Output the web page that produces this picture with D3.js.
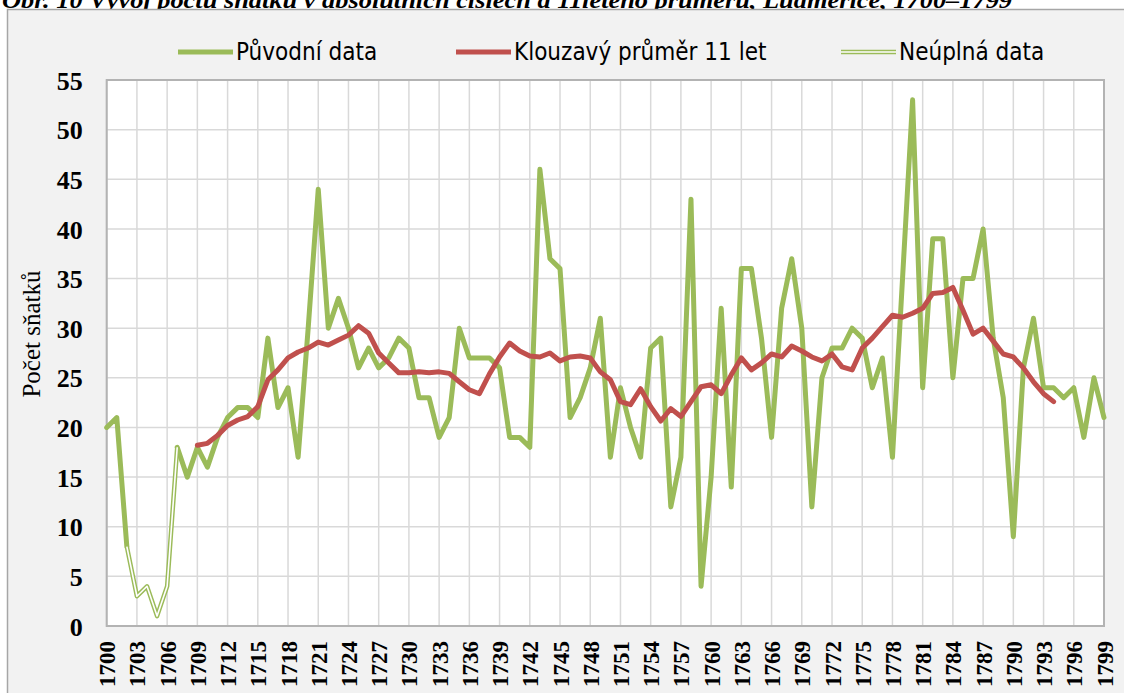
<!DOCTYPE html>
<html>
<head>
<meta charset="utf-8">
<script src="https://cdn.jsdelivr.net/npm/d3@7"></script>
<style>
  html, body { margin: 0; padding: 0; background: #ffffff; }
  svg { display: block; }
</style>
</head>
<body>
<div id="chart"></div>
<script>
// roky 1700-1799
const years = d3.range(1700, 1800);

// Původní data (null = neúplné roky 1703-1706)
const puvodni = [
  20, 21, 8, null, null, null, null, 18, 15, 18,
  16, 19, 21, 22, 22, 21, 29, 22, 24, 17,
  30, 44, 30, 33, 30, 26, 28, 26, 27, 29,
  28, 23, 23, 19, 21, 30, 27, 27, 27, 26,
  19, 19, 18, 46, 37, 36, 21, 23, 26, 31,
  17, 24, 20, 17, 28, 29, 12, 17, 43, 4,
  15, 32, 14, 36, 36, 29, 19, 32, 37, 30,
  12, 25, 28, 28, 30, 29, 24, 27, 17, 35,
  53, 24, 39, 39, 25, 35, 35, 40, 29, 23,
  9, 26, 31, 24, 24, 23, 24, 19, 25, 21
];

// Neúplná data, 1702-1707
const neuplnaStart = 1702;
const neuplna = [8, 3, 4, 1, 4, 18];

// Klouzavý průměr 11 let, 1709-1794
const klouzavyStart = 1709;
const klouzavy = [
  18.2, 18.4, 19.2, 20.2, 20.75, 21.1, 22.1, 24.8, 25.8, 27.0, 27.6, 28.0,
  28.6, 28.3, 28.8, 29.3, 30.25, 29.5, 27.5, 26.5, 25.5, 25.5,
  25.6, 25.5, 25.6, 25.45, 24.6, 23.8, 23.4, 25.4, 27.1, 28.5,
  27.7, 27.2, 27.1, 27.5, 26.7, 27.1, 27.2, 27.0, 25.6, 24.8,
  22.6, 22.3, 23.9, 22.1, 20.65, 21.9, 21.1, 22.6, 24.1, 24.3,
  23.4, 25.3, 27.0, 25.8, 26.5, 27.4, 27.1, 28.2, 27.7, 27.1,
  26.7, 27.4, 26.1, 25.8, 28.0, 29.0, 30.15, 31.3, 31.1, 31.5,
  32.0, 33.5, 33.6, 34.1, 31.8, 29.4, 30.0, 28.7, 27.4, 27.1,
  26.0, 24.6, 23.4, 22.6
];

const xTicks = d3.range(1700, 1800, 3);
const yTicks = d3.range(0, 56, 5);

const seriesNames = ["Původní data", "Klouzavý průměr 11 let", "Neúplná data"];
const titleText = "Obr. 10 Vývoj počtu sňatků v absolutních číslech a 11letého průměru, Ludmerice, 1700–1799";

const width = 1124, height = 693;
const green = "#9bbb59", red = "#c0504d";

const svg = d3.select("#chart")
  .append("svg")
  .attr("width", width)
  .attr("height", height);

// title (cut off by the top edge, only its lower part shows)
svg.append("text")
  .attr("x", 2)
  .attr("y", 8)
  .style("font-family", "'Liberation Serif', 'Times New Roman', serif")
  .style("font-weight", "bold")
  .style("font-style", "italic")
  .style("font-size", "24px")
  .attr("textLength", 1010)
  .attr("lengthAdjust", "spacingAndGlyphs")
  .text(titleText);

// chart area
svg.append("rect")
  .attr("x", 7.5)
  .attr("y", 9.5)
  .attr("width", 1130)
  .attr("height", 700)
  .attr("fill", "#f2f2f2")
  .attr("stroke", "#a6a6a6")
  .attr("stroke-width", 1.5);

const plot = { left: 106.7, right: 1104, top: 80, bottom: 626 };

const x = d3.scaleLinear().domain([1700, 1799]).range([plot.left, plot.right]);
const y = d3.scaleLinear().domain([0, 55]).range([plot.bottom, plot.top]);

svg.append("rect")
  .attr("x", plot.left)
  .attr("y", plot.top)
  .attr("width", plot.right - plot.left)
  .attr("height", plot.bottom - plot.top)
  .attr("fill", "#ffffff");

// gridlines
const grid = svg.append("g").attr("stroke", "#d9d9d9").attr("stroke-width", 1.5);
grid.selectAll("line.h")
  .data(yTicks)
  .enter()
  .append("line")
  .attr("x1", plot.left).attr("x2", plot.right)
  .attr("y1", (d) => y(d)).attr("y2", (d) => y(d));
grid.selectAll("line.v")
  .data(xTicks)
  .enter()
  .append("line")
  .attr("x1", (d) => x(d)).attr("x2", (d) => x(d))
  .attr("y1", plot.top).attr("y2", plot.bottom);

// plot border
svg.append("rect")
  .attr("x", plot.left)
  .attr("y", plot.top)
  .attr("width", plot.right - plot.left)
  .attr("height", plot.bottom - plot.top)
  .attr("fill", "none")
  .attr("stroke", "#b3b3b3")
  .attr("stroke-width", 2);

// y axis labels
const yAxis = svg.append("g")
  .attr("transform", `translate(${plot.left - 24},0)`)
  .call(d3.axisLeft(y).tickValues(yTicks).tickSize(0).tickPadding(0));
yAxis.select(".domain").remove();
yAxis.selectAll("text")
  .attr("dy", "0.35em")
  .style("font-family", "'Liberation Serif', 'Times New Roman', serif")
  .style("font-weight", "bold")
  .style("font-size", "26px")
  .style("fill", "#000");

// x axis labels, rotated
const xAxis = svg.append("g")
  .attr("transform", `translate(0,${plot.bottom})`)
  .call(d3.axisBottom(x).tickValues(xTicks).tickSize(0).tickFormat(d3.format("d")));
xAxis.select(".domain").remove();
xAxis.selectAll("text")
  .attr("y", 0)
  .attr("x", 0)
  .attr("dy", "0.35em")
  .attr("transform", "translate(0,15) rotate(-90)")
  .style("text-anchor", "end")
  .style("font-family", "'Liberation Serif', 'Times New Roman', serif")
  .style("font-weight", "bold")
  .style("font-size", "23px")
  .style("fill", "#000");

// y title
svg.append("text")
  .attr("transform", "translate(40,334) rotate(-90)")
  .attr("text-anchor", "middle")
  .style("font-family", "'Liberation Serif', 'Times New Roman', serif")
  .style("font-size", "25px")
  .text("Počet sňatků");

// lines
const line = d3.line()
  .defined((d) => d[1] !== null)
  .x((d) => x(d[0]))
  .y((d) => y(d[1]));

const puvodniPts = years.map((yr, i) => [yr, puvodni[i]]);
const neuplnaPts = neuplna.map((v, i) => [neuplnaStart + i, v]);
const klouzavyPts = klouzavy.map((v, i) => [klouzavyStart + i, v]);

svg.append("path")
  .datum(puvodniPts)
  .attr("d", line)
  .attr("fill", "none")
  .attr("stroke", green)
  .attr("stroke-width", 5)
  .attr("stroke-linejoin", "round")
  .attr("stroke-linecap", "round");

svg.append("path")
  .datum(klouzavyPts)
  .attr("d", line)
  .attr("fill", "none")
  .attr("stroke", red)
  .attr("stroke-width", 5)
  .attr("stroke-linejoin", "round")
  .attr("stroke-linecap", "round");

// double line for incomplete data
svg.append("path")
  .datum(neuplnaPts)
  .attr("d", line)
  .attr("fill", "none")
  .attr("stroke", green)
  .attr("stroke-width", 4.5)
  .attr("stroke-linejoin", "round");
svg.append("path")
  .datum(neuplnaPts)
  .attr("d", line)
  .attr("fill", "none")
  .attr("stroke", "#ffffff")
  .attr("stroke-width", 1.6)
  .attr("stroke-linejoin", "round");

// legend
const legendX = [178, 456, 841];
const legend = svg.append("g");
seriesNames.forEach((name, i) => {
  const g = legend.append("g").attr("transform", `translate(${legendX[i]},52)`);
  if (i === 2) {
    g.append("line").attr("x1", 0).attr("x2", 55).attr("stroke", green).attr("stroke-width", 4.5);
    g.append("line").attr("x1", 0).attr("x2", 55).attr("stroke", "#fff").attr("stroke-width", 1.6);
  } else {
    g.append("line").attr("x1", 0).attr("x2", 55)
      .attr("stroke", i === 0 ? green : red).attr("stroke-width", 5);
  }
  g.append("text")
    .attr("x", 58)
    .attr("dy", "0.35em")
    .style("font-family", "'DejaVu Sans Condensed', 'DejaVu Sans', sans-serif")
    .style("font-stretch", "condensed")
    .style("font-size", "24px")
    .style("fill", "#000")
    .text(name);
});
</script>
</body>
</html>
